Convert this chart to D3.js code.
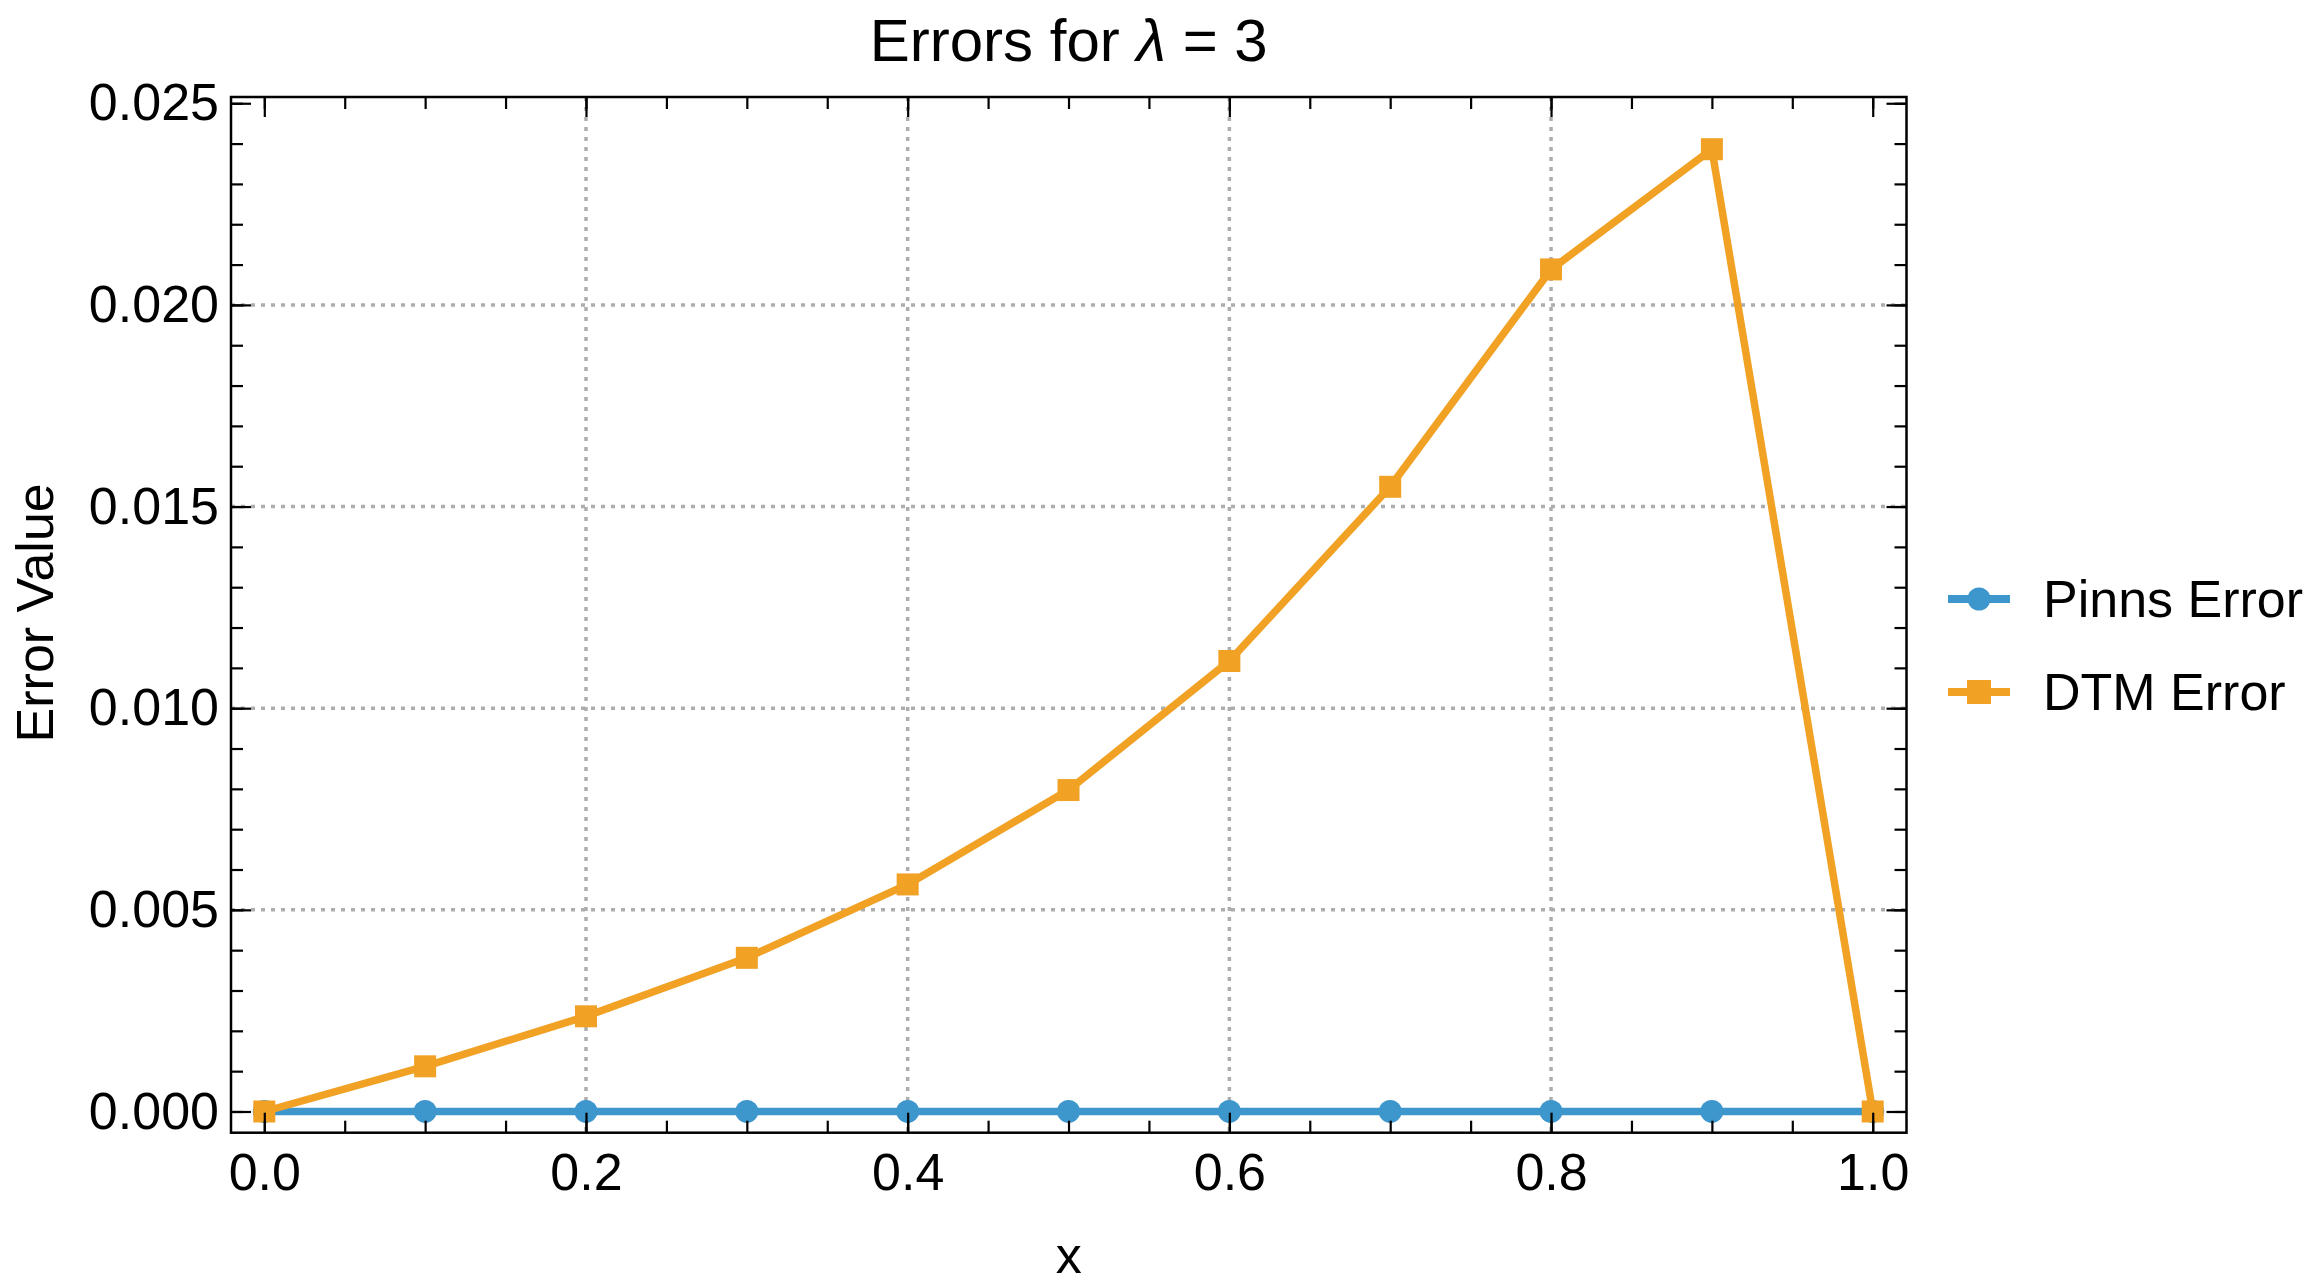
<!DOCTYPE html>
<html>
<head>
<meta charset="utf-8">
<script src="https://cdn.jsdelivr.net/npm/d3@7"></script>
<style>
  html, body { margin: 0; padding: 0; background: #fff; }
  svg { display: block; }
  text { font-family: "Liberation Sans", Arial, Helvetica, sans-serif; fill: #000; }
</style>
</head>
<body>
<svg id="chart" width="2321" height="1288"></svg>
<script>
// ---- data ----
const xValues = [0.0, 0.1, 0.2, 0.3, 0.4, 0.5, 0.6, 0.7, 0.8, 0.9, 1.0];
const pinnsError = [0, 0, 0, 0, 0, 0, 0, 0, 0, 0, 0];
const dtmError = [0, 0.00112, 0.00236, 0.00381, 0.00563, 0.00797, 0.01117, 0.01549, 0.02088, 0.02386, 0];
const seriesNames = ["Pinns Error", "DTM Error"];
const xMajorTicks = [0.0, 0.2, 0.4, 0.6, 0.8, 1.0];
const yMajorTicks = [0.000, 0.005, 0.010, 0.015, 0.020, 0.025];
const xGrid = [0.2, 0.4, 0.6, 0.8];
const yGrid = [0.005, 0.010, 0.015, 0.020];
const titleText = "Errors for ";
const titleSymbol = "λ";
const titleRest = " = 3";
const xLabel = "x";
const yLabel = "Error Value";

// ---- layout ----
const W = 2321, H = 1288;
const L = 231, R = 1906.5, T = 97, B = 1132.7;
const blue = "#3E97CC", orange = "#F1A124";
const FONT = 52;

const svg = d3.select("#chart");
const x = d3.scaleLinear().domain([-0.0207, 1.0210]).range([L, R]);
const y = d3.scaleLinear().domain([-0.000526, 0.025155]).range([B, T]);

const xMinor = d3.range(0, 1.0001, 0.05).map(v => +v.toFixed(2));
const yMinor = d3.range(0, 0.02501, 0.001).map(v => +v.toFixed(3));

// grid
const grid = svg.append("g").attr("stroke", "#adadad").attr("stroke-width", 3.5)
  .attr("stroke-dasharray", "4,6");
grid.selectAll("line.gx").data(xGrid).join("line").attr("class", "gx")
  .attr("x1", d => x(d)).attr("x2", d => x(d)).attr("y1", T).attr("y2", B);
grid.selectAll("line.gy").data(yGrid).join("line").attr("class", "gy")
  .attr("y1", d => y(d)).attr("y2", d => y(d)).attr("x1", L).attr("x2", R);

// series
const line = d3.line().x(d => x(d[0])).y(d => y(d[1]));
const pinnsPts = xValues.map((v, i) => [v, pinnsError[i]]);
const dtmPts = xValues.map((v, i) => [v, dtmError[i]]);

svg.append("path").datum(pinnsPts).attr("d", line).attr("fill", "none")
  .attr("stroke", blue).attr("stroke-width", 7.5).attr("stroke-linejoin", "round");
svg.append("g").selectAll("circle").data(pinnsPts).join("circle")
  .attr("cx", d => x(d[0])).attr("cy", d => y(d[1])).attr("r", 11.5).attr("fill", blue);

svg.append("path").datum(dtmPts).attr("d", line).attr("fill", "none")
  .attr("stroke", orange).attr("stroke-width", 7.5).attr("stroke-linejoin", "round");
const S = 22;
svg.append("g").selectAll("rect").data(dtmPts).join("rect")
  .attr("x", d => x(d[0]) - S / 2).attr("y", d => y(d[1]) - S / 2)
  .attr("width", S).attr("height", S).attr("fill", orange);

// frame
svg.append("rect").attr("x", L).attr("y", T).attr("width", R - L).attr("height", B - T)
  .attr("fill", "none").attr("stroke", "#000").attr("stroke-width", 2.5);

function styleAxis(g) {
  g.select(".domain").remove();
  g.selectAll("line").attr("stroke", "#000").attr("stroke-width", 2.2);
  g.selectAll("text").attr("font-family", "'Liberation Sans', Arial, sans-serif")
    .attr("font-size", FONT).attr("fill", "#000");
  g.attr("font-size", FONT);
}

// bottom
svg.append("g").attr("transform", `translate(0,${B})`)
  .call(d3.axisBottom(x).tickValues(xMinor).tickSize(-12).tickFormat(""))
  .call(styleAxis);
svg.append("g").attr("transform", `translate(0,${B})`)
  .call(d3.axisBottom(x).tickValues(xMajorTicks).tickSize(-20).tickPadding(20)
    .tickFormat(d3.format(".1f")))
  .call(styleAxis);
// top
svg.append("g").attr("transform", `translate(0,${T})`)
  .call(d3.axisTop(x).tickValues(xMinor).tickSize(-12).tickFormat(""))
  .call(styleAxis);
svg.append("g").attr("transform", `translate(0,${T})`)
  .call(d3.axisTop(x).tickValues(xMajorTicks).tickSize(-20).tickFormat(""))
  .call(styleAxis);
// left
svg.append("g").attr("transform", `translate(${L},0)`)
  .call(d3.axisLeft(y).tickValues(yMinor).tickSize(-12).tickFormat(""))
  .call(styleAxis);
svg.append("g").attr("transform", `translate(${L},0)`)
  .call(d3.axisLeft(y).tickValues(yMajorTicks).tickSize(-20).tickPadding(12)
    .tickFormat(d3.format(".3f")))
  .call(styleAxis);
// right
svg.append("g").attr("transform", `translate(${R},0)`)
  .call(d3.axisRight(y).tickValues(yMinor).tickSize(-12).tickFormat(""))
  .call(styleAxis);
svg.append("g").attr("transform", `translate(${R},0)`)
  .call(d3.axisRight(y).tickValues(yMajorTicks).tickSize(-20).tickFormat(""))
  .call(styleAxis);

// title
const title = svg.append("text").attr("x", (L + R) / 2).attr("y", 61)
  .attr("text-anchor", "middle").attr("font-size", 60);
title.append("tspan").text(titleText);
title.append("tspan").attr("font-style", "italic").text(titleSymbol);
title.append("tspan").text(titleRest);

// axis labels
svg.append("text").attr("x", (L + R) / 2).attr("y", 1273).attr("text-anchor", "middle")
  .attr("font-size", FONT).text(xLabel);
svg.append("text").attr("transform", `translate(53,${(T + B) / 2 - 2}) rotate(-90)`)
  .attr("text-anchor", "middle").attr("font-size", FONT).text(yLabel);

// legend
const legend = svg.append("g");
const legRows = [
  { name: seriesNames[0], color: blue, shape: "circle", y: 599 },
  { name: seriesNames[1], color: orange, shape: "square", y: 692 }
];
legRows.forEach(r => {
  const g = legend.append("g");
  g.append("line").attr("x1", 1948).attr("x2", 2010).attr("y1", r.y).attr("y2", r.y)
    .attr("stroke", r.color).attr("stroke-width", 8);
  if (r.shape === "circle") {
    g.append("circle").attr("cx", 1979).attr("cy", r.y).attr("r", 11.5).attr("fill", r.color);
  } else {
    g.append("rect").attr("x", 1979 - 12).attr("y", r.y - 12).attr("width", 24).attr("height", 24)
      .attr("fill", r.color);
  }
  g.append("text").attr("x", 2043).attr("y", r.y).attr("dy", "0.35em")
    .attr("font-size", FONT).text(r.name);
});
</script>
</body>
</html>
